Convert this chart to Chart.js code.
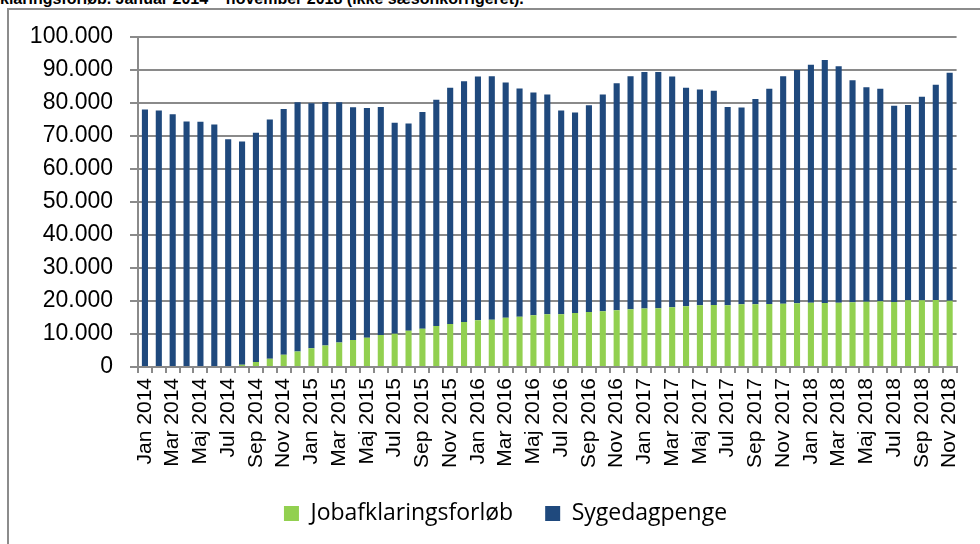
<!DOCTYPE html>
<html>
<head>
<meta charset="utf-8">
<script src="https://cdn.jsdelivr.net/npm/chart.js@4.4.1/dist/chart.umd.min.js"></script>
<style>
    body { margin: 0; background: #fff; overflow: hidden; }
    #wrap { position: relative; width: 980px; height: 544px; overflow: hidden; }
    #title {
        position: absolute; left: 0; top: -10px; white-space: nowrap;
        font: bold 16px "Liberation Sans", Arial, sans-serif; color: #000;
    }
    #frame {
        position: absolute; left: 7px; top: 8px; width: 1000px; height: 560px;
        border: 2px solid #8c8c8c; box-sizing: border-box;
    }
    #chart { position: absolute; left: 0; top: 0; }
</style>
</head>
<body>
<div id="wrap">
    <div id="title">klaringsforløb. Januar 2014 – november 2018 (ikke sæsonkorrigeret).</div>
    <div id="frame"></div>
    <canvas id="chart" width="980" height="544"></canvas>
</div>
<script>
// --- Data ---
const monthNames = ['Jan', 'Feb', 'Mar', 'Apr', 'Maj', 'Jun', 'Jul', 'Aug', 'Sep', 'Okt', 'Nov', 'Dec'];
const years = [2014, 2015, 2016, 2017, 2018];
const months = [];
years.forEach(y => monthNames.forEach(m => months.push(m + ' ' + y)));
months.length = 59; // Jan 2014 - Nov 2018

const jobafklaring = [
    0, 0, 0, 0, 0, 0, 0, 700, 1500, 2500, 3700, 4700,
    5700, 6500, 7400, 8200, 8900, 9700, 10100, 11000, 11600, 12400, 13000, 13600,
    14200, 14300, 14900, 15200, 15700, 16000, 16000, 16400, 16700, 16900, 17200, 17500,
    17700, 17800, 18100, 18400, 18700, 18800, 18700, 19000, 19000, 19100, 19200, 19300,
    19500, 19400, 19500, 19600, 19800, 19900, 19700, 20200, 20200, 20300, 20100
];

const sygedagpenge = [
    78000, 77700, 76600, 74400, 74300, 73500, 69000, 67600, 69500, 72500, 74500, 75500,
    74200, 73800, 72800, 70500, 69600, 69100, 63900, 62800, 65700, 68600, 71600, 73000,
    73800, 73800, 71300, 69200, 67500, 66600, 61700, 60700, 62600, 65700, 68800, 70600,
    71700, 71600, 69900, 66200, 65400, 64900, 60100, 59600, 62200, 65200, 68900, 70700,
    72100, 73600, 71600, 67300, 65000, 64400, 59500, 59200, 61700, 65200, 69100
];

const yTicks = { min: 0, max: 100000, step: 10000 };

// Danish thousands separator
const formatDa = (v) => String(v).replace(/\B(?=(\d{3})+(?!\d))/g, '.');

const gridGray = '#8a8a8a';

// nudge the legend: a bit right of centre and a bit higher, like the original
const shiftLegend = {
    id: 'shiftLegend',
    afterLayout(chart) {
        const lg = chart.legend;
        if (lg) {
            lg.left += 14;
            lg.right += 14;
            lg.top -= 9;
            lg.bottom -= 9;
        }
    }
};

new Chart(document.getElementById('chart').getContext('2d'), {
    type: 'bar',
    data: {
        labels: months,
        datasets: [
            {
                label: 'Jobafklaringsforløb',
                data: jobafklaring,
                backgroundColor: '#92D050',
                categoryPercentage: 0.44,
                barPercentage: 1
            },
            {
                label: 'Sygedagpenge',
                data: sygedagpenge,
                backgroundColor: '#1F497D',
                categoryPercentage: 0.44,
                barPercentage: 1
            }
        ]
    },
    options: {
        responsive: false,
        animation: false,
        layout: { padding: { top: 37, left: 20, right: 17, bottom: 0 } },
        plugins: {
            title: { display: false },
            tooltip: { enabled: false },
            legend: {
                position: 'bottom',
                labels: {
                    boxWidth: 15,
                    boxHeight: 15,
                    padding: 32,
                    color: '#000',
                    font: { family: 'Open Sans', size: 23 }
                }
            }
        },
        scales: {
            x: {
                stacked: true,
                afterFit: (scale) => { scale.height = 112; },
                border: { color: gridGray, width: 2 },
                grid: {
                    drawOnChartArea: false,
                    drawTicks: true,
                    tickLength: 6,
                    color: gridGray,
                    lineWidth: 2
                },
                ticks: {
                    autoSkip: false,
                    maxRotation: 90,
                    minRotation: 90,
                    padding: 5,
                    color: '#000',
                    font: { family: 'Liberation Sans', size: 21 },
                    callback: function (val, index) {
                        return index % 2 === 0 ? this.getLabelForValue(val) : '';
                    }
                }
            },
            y: {
                stacked: true,
                min: yTicks.min,
                max: yTicks.max,
                afterFit: (scale) => { scale.width = 118; },
                border: { color: gridGray, width: 2 },
                grid: {
                    color: gridGray,
                    lineWidth: 2,
                    tickLength: 8
                },
                ticks: {
                    stepSize: yTicks.step,
                    padding: 17,
                    color: '#000',
                    font: { family: 'Liberation Sans', size: 23 },
                    callback: (v) => formatDa(v)
                }
            }
        }
    },
    plugins: [shiftLegend]
});
</script>
</body>
</html>
